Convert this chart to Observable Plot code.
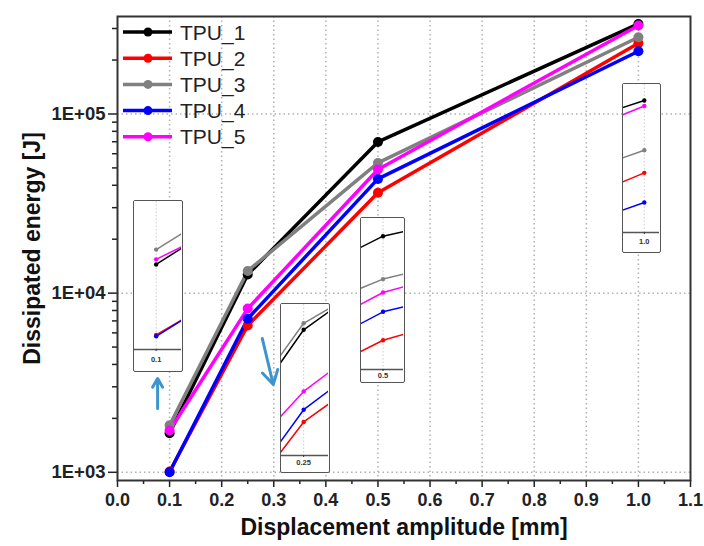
<!DOCTYPE html>
<html><head><meta charset="utf-8">
<script src="https://cdn.jsdelivr.net/npm/d3@7"></script>
<script src="https://cdn.jsdelivr.net/npm/@observablehq/plot@0.6"></script>
<style>
body{margin:0;background:#fff;}
#wrap{position:relative;width:704px;height:546px;font-family:"Liberation Sans",Arial,sans-serif;}
.inset{position:absolute;background:#fff;border:1.5px solid #555;border-radius:2px;box-sizing:border-box;overflow:hidden}
.inset svg{display:block}
</style></head><body><div id="wrap"></div>
<script>
// ---- data ----
const amplitudes = [0.1, 0.25, 0.5, 1.0];
const seriesNames = ["TPU_1", "TPU_2", "TPU_3", "TPU_4", "TPU_5"];
const seriesColors = ["#000000", "#ff0000", "#808080", "#0000ff", "#ff00ff"];
const tpu1 = [1650, 12700, 69800, 318000];
const tpu2 = [1010, 6600, 36300, 248000];
const tpu3 = [1830, 13300, 53300, 268000];
const tpu4 = [1000, 7200, 43400, 224000];
const tpu5 = [1710, 8200, 49000, 312000];
const xTicks = [0.0, 0.1, 0.2, 0.3, 0.4, 0.5, 0.6, 0.7, 0.8, 0.9, 1.0, 1.1];
const xMinorTicks = [0.05, 0.15, 0.25, 0.35, 0.45, 0.55, 0.65, 0.75, 0.85, 0.95, 1.05];
const yTicks = [1e3, 1e4, 1e5];
const yMinorTicks = [2e3,3e3,4e3,5e3,6e3,7e3,8e3,9e3,2e4,3e4,4e4,5e4,6e4,7e4,8e4,9e4,2e5,3e5];
const xTitle = "Displacement amplitude [mm]";
const yTitle = "Dissipated energy [J]";
// annotation arrows (data coordinates)
const arrowX1 = [0.077, 0.278];
const arrowY1 = [2270, 5580];
const arrowX2 = [0.077, 0.299];
const arrowY2 = [3340, 3090];
// insets
const insetLabels = ["0.1", "0.25", "0.5", "1.0"];
const insetXDomains = [[0.0929, 0.1083], [0.2335, 0.2685], [0.49, 0.5095], [0.9922, 1.0057]];
const insetYDomains = [[912, 2559], [5200, 15200], [30200, 78000], [202000, 336000]];

const allValues = [tpu1, tpu2, tpu3, tpu4, tpu5];
const rows = [];
seriesNames.forEach((s, i) => amplitudes.forEach((a, j) => rows.push({series: s, x: a, y: allValues[i][j]})));
const arrows = arrowX1.map((d, i) => ({x1: d, y1: arrowY1[i], x2: arrowX2[i], y2: arrowY2[i]}));

// ---- layout ----
const font = '"Liberation Sans", Arial, sans-serif';
const insetBoxes = [[133, 200, 50, 172, 21], [280, 303, 50, 170, 16], [360, 217, 45, 166, 12], [622, 83, 39, 170, 19]];

const wrap = document.getElementById("wrap");
const main = Plot.plot({
  width: 704, height: 546,
  marginTop: 16, marginBottom: 66, marginLeft: 117, marginRight: 14,
  style: {fontFamily: font, background: "white", color: "#222"},
  x: {domain: [0, 1.1]},
  y: {type: "log", domain: [900, 350000]},
  color: {domain: seriesNames, range: seriesColors},
  marks: [
    Plot.gridX(xTicks.slice(1, -1), {stroke: "#a8a8a8", strokeOpacity: 0.9, strokeDasharray: "1.5,3", strokeWidth: 1.5}),
    Plot.gridY(yTicks, {stroke: "#a8a8a8", strokeOpacity: 0.9, strokeDasharray: "1.5,3", strokeWidth: 1.5}),
    Plot.axisX(xMinorTicks, {tickSize: 4, tickFormat: () => "", label: null, strokeWidth: 1.5}),
    Plot.axisX(xTicks, {tickSize: 7, tickPadding: 6, tickFormat: d3.format(".1f"), fontSize: 18, fontWeight: "bold", label: null, strokeWidth: 1.5}),
    Plot.axisY(yMinorTicks, {tickSize: 5, tickFormat: () => "", label: null, strokeWidth: 1.5}),
    Plot.axisY(yTicks, {tickSize: 9, tickPadding: 3, tickFormat: d => "1E+0" + Math.round(Math.log10(d)), fontSize: 18.5, fontWeight: "bold", label: null, strokeWidth: 1.5}),
    Plot.line(rows, {x: "x", y: "y", z: "series", stroke: "series", strokeWidth: 3.5}),
    Plot.dot(rows, {x: "x", y: "y", fill: "series", r: 5}),
    Plot.arrow(arrows, {x1: "x1", y1: "y1", x2: "x2", y2: "y2", stroke: "#3d95d0", strokeWidth: 3, headLength: 9}),
    Plot.frame({stroke: "#333", strokeWidth: 2}),
    Plot.text([xTitle], {frameAnchor: "bottom", dy: 47, fontSize: 23, fontWeight: "bold", fill: "#111", textAnchor: "middle", lineAnchor: "middle"}),
    Plot.text([yTitle], {frameAnchor: "left", dx: -85, rotate: -90, fontSize: 23, fontWeight: "bold", fill: "#111", textAnchor: "middle", lineAnchor: "middle"})
  ]
});
wrap.appendChild(main);

// legend inside plot
const svg = d3.select(main);
const lg = svg.append("g").attr("text-anchor", "start");
seriesNames.forEach((s, i) => {
  const yy = 32 + i * 26.2;
  lg.append("line").attr("x1", 123).attr("x2", 172).attr("y1", yy).attr("y2", yy).attr("stroke", seriesColors[i]).attr("stroke-width", 3.5);
  lg.append("circle").attr("cx", 148).attr("cy", yy).attr("r", 4.5).attr("fill", seriesColors[i]);
  lg.append("text").attr("x", 180).attr("y", yy).attr("dy", "0.36em").attr("text-anchor", "start").attr("font-size", 21).attr("fill", "#222").attr("font-family", font).text(s);
});

// insets
insetBoxes.forEach(([l, t, w, h, s], i) => {
  const div = document.createElement("div");
  div.className = "inset";
  div.style.left = l + "px"; div.style.top = t + "px";
  div.style.width = w + "px"; div.style.height = h + "px";
  const amp = amplitudes[i];
  const p = Plot.plot({
    width: w - 3, height: h - 3,
    marginTop: 0, marginLeft: 0, marginRight: 0, marginBottom: s,
    style: {fontFamily: font, background: "white", color: "#333"},
    x: {domain: insetXDomains[i]},
    y: {type: "log", domain: insetYDomains[i], axis: null},
    color: {domain: seriesNames, range: seriesColors},
    marks: [
      Plot.ruleX([amp], {stroke: "#ccc", strokeDasharray: "1.5,2"}),
      Plot.line(rows, {x: "x", y: "y", z: "series", stroke: "series", strokeWidth: 1.5, clip: true}),
      Plot.dot(rows.filter(d => d.x === amp), {x: "x", y: "y", fill: "series", r: 2.2}),
      Plot.ruleY([insetYDomains[i][0]], {stroke: "#555", strokeWidth: 1.3}),
      Plot.axisX([amp], {tickSize: 2, tickPadding: Math.max(1, (s - 11) / 2), tickFormat: () => insetLabels[i], fontSize: 7.5, fontWeight: "bold", label: null})
    ]
  });
  div.appendChild(p);
  wrap.appendChild(div);
});
</script>
</body></html>
